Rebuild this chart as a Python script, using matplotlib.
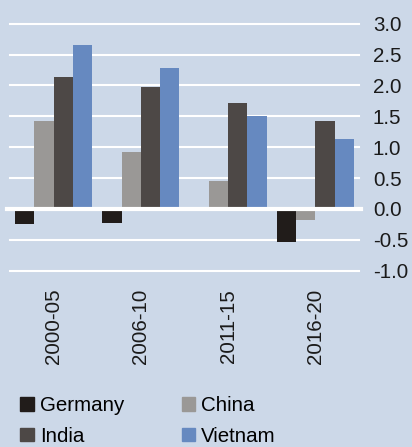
import numpy as np
import matplotlib
matplotlib.use('Agg')
import matplotlib.pyplot as plt
from matplotlib.patches import Patch

periods = ['2000-05', '2006-10', '2011-15', '2016-20']
germany = [-0.25, -0.23, 0.0, -0.53]
china = [1.42, 0.93, 0.46, -0.18]
india = [2.13, 1.97, 1.71, 1.42]
vietnam = [2.65, 2.28, 1.50, 1.13]
yticks = [-1.0, -0.5, 0.0, 0.5, 1.0, 1.5, 2.0, 2.5, 3.0]

bg = '#CCD8E8'
colors = {'Germany': '#211C1A', 'China': '#9A9896',
          'India': '#4D4846', 'Vietnam': '#6689C0'}

plt.rcParams['font.family'] = ['Liberation Sans', 'DejaVu Sans']

fig = plt.figure(figsize=(4.12, 4.47), dpi=100, facecolor=bg)
ax = fig.add_axes([0.0243, 0.3944, 0.847, 0.5525])
ax.set_facecolor(bg)

x = np.arange(len(periods))
w = 0.22
series = [('Germany', germany), ('China', china), ('India', india), ('Vietnam', vietnam)]
for k, (name, vals) in enumerate(series):
    ax.bar(x + (k - 1.5) * w, vals, width=w, color=colors[name], zorder=2)

# gridlines
for t in yticks:
    if t == 0:
        ax.axhline(0, xmin=-0.01, xmax=1.006, color='white', lw=3, zorder=3, clip_on=False)
    else:
        ax.axhline(t, color='white', lw=1.5, zorder=1, clip_on=False)

ax.set_xlim(-0.5, 3.5)
ax.set_ylim(-1.0, 3.0)
ax.set_yticks(yticks)
ax.set_yticklabels([f'{t:.1f}' for t in yticks])
ax.yaxis.tick_right()
ax.tick_params(axis='y', length=0, pad=10, labelsize=14.8, colors='#1a1a1a')
ax.set_xticks(x)
ax.set_xticklabels(periods, rotation=90, va='top')
ax.tick_params(axis='x', length=0, pad=13, labelsize=14.8, colors='#1a1a1a')
for s in ax.spines.values():
    s.set_visible(False)

handles = [Patch(color=colors['Germany']), Patch(color=colors['India']),
           Patch(color=colors['China']), Patch(color=colors['Vietnam'])]
labels = ['Germany', 'India', 'China', 'Vietnam']
fig.legend(handles, labels, ncol=2, loc='upper left', bbox_to_anchor=(0.049, 0.113),
           frameon=False, fontsize=14.8, handlelength=0.65, handleheight=0.65,
           handletextpad=0.3, columnspacing=2.8, labelspacing=0.55, borderpad=0,
           borderaxespad=0)

fig.savefig('out.png', dpi=100, facecolor=bg)
